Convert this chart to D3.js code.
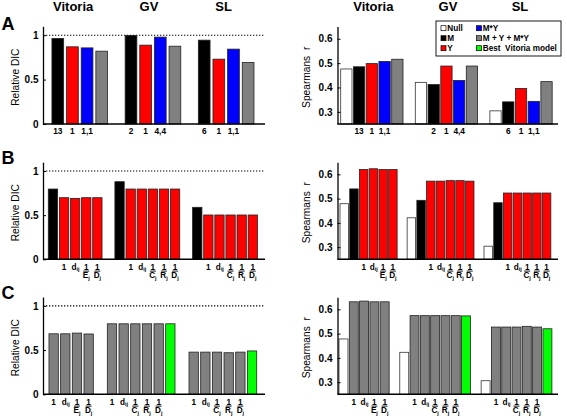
<!DOCTYPE html>
<html><head><meta charset="utf-8">
<script src="https://cdn.jsdelivr.net/npm/d3@7"></script>
<style>
body{margin:0;background:#fff}
svg{display:block}
text{font-family:"Liberation Sans",Arial,sans-serif;fill:#000}
</style>
</head><body>
<svg id="c" width="567" height="419"></svg>
<script>
// ---------------- data ----------------
const sites = ["Vitoria", "GV", "SL"];
const legendLabels = ["Null", "M", "Y", "M*Y", "M + Y + M*Y", "Best  Vitoria model"];
const legendKeys = ["Null", "M", "Y", "MY", "F", "Best"];

// Panel A : relative DIC (left) and Spearman r (right)
const aDIC_M  = [0.963, 0.997, 0.944];
const aDIC_Y  = [0.869, 0.888, 0.730];
const aDIC_MY = [0.857, 0.978, 0.843];
const aDIC_F  = [0.820, 0.876, 0.693];
const aR_Null = [0.476, 0.421, 0.304];
const aR_M    = [0.485, 0.412, 0.341];
const aR_Y    = [0.498, 0.488, 0.396];
const aR_MY   = [0.507, 0.429, 0.343];
const aR_F    = [0.516, 0.488, 0.424];
const aTickLabels = [["13", "1", "1,1"], ["2", "1", "4,4"], ["6", "1", "1,1"]];

// Panel B
const bDIC_M = [0.796, 0.879, 0.589];
const bDIC_Y = [[0.698, 0.690, 0.698, 0.698],
                [0.796, 0.796, 0.796, 0.796, 0.796],
                [0.502, 0.502, 0.502, 0.502, 0.502]];
const bR_Null = [0.479, 0.421, 0.304];
const bR_M    = [0.540, 0.493, 0.483];
const bR_Y    = [[0.620, 0.623, 0.620, 0.620],
                 [0.572, 0.572, 0.574, 0.574, 0.572],
                 [0.523, 0.523, 0.523, 0.523, 0.523]];

// Panel C
const cDIC_F = [[0.684, 0.684, 0.692, 0.682],
                [0.797, 0.797, 0.797, 0.797, 0.797],
                [0.477, 0.477, 0.477, 0.470, 0.477]];
const cDIC_Best = [null, 0.797, 0.490];
const cR_Null = [0.478, 0.423, 0.306];
const cR_F = [[0.631, 0.634, 0.631, 0.631],
              [0.574, 0.574, 0.574, 0.574, 0.574],
              [0.527, 0.527, 0.527, 0.530, 0.527]];
const cR_Best = [null, 0.573, 0.520];

const distLabels = [["1", "d_ij", "1/E_j", "1/D_j"],
                    ["1", "d_ij", "1/C_j", "1/R_j", "1/D_j"],
                    ["1", "d_ij", "1/C_j", "1/R_j", "1/D_j"]];

const leftTicks = [0, 0.5, 1];
const rightTicks = [0.3, 0.4, 0.5, 0.6];

// ---------------- styles ----------------
const colors = {Null: "#ffffff", M: "#000000", Y: "#ff0000", MY: "#0000ff", F: "#808080", Best: "#00ff00"};

// ---------------- build groups ----------------
const bar = (key, value, label) => ({key, value, label});
const groupsA_L = sites.map((s, g) => [bar("Null", null), bar("M", aDIC_M[g], aTickLabels[g][0]),
  bar("Y", aDIC_Y[g], aTickLabels[g][1]), bar("MY", aDIC_MY[g], aTickLabels[g][2]), bar("F", aDIC_F[g])]);
const groupsA_R = sites.map((s, g) => [bar("Null", aR_Null[g]), bar("M", aR_M[g], aTickLabels[g][0]),
  bar("Y", aR_Y[g], aTickLabels[g][1]), bar("MY", aR_MY[g], aTickLabels[g][2]), bar("F", aR_F[g])]);
const groupsB_L = sites.map((s, g) => [bar("Null", null), bar("M", bDIC_M[g]),
  ...bDIC_Y[g].map((v, i) => bar("Y", v, distLabels[g][i]))]);
const groupsB_R = sites.map((s, g) => [bar("Null", bR_Null[g]), bar("M", bR_M[g]),
  ...bR_Y[g].map((v, i) => bar("Y", v, distLabels[g][i]))]);
const groupsC_L = sites.map((s, g) => [bar("Null", null),
  ...cDIC_F[g].map((v, i) => bar("F", v, distLabels[g][i])),
  ...(cDIC_Best[g] != null ? [bar("Best", cDIC_Best[g])] : [])]);
const groupsC_R = sites.map((s, g) => [bar("Null", cR_Null[g]),
  ...cR_F[g].map((v, i) => bar("F", v, distLabels[g][i])),
  ...(cR_Best[g] != null ? [bar("Best", cR_Best[g])] : [])]);

// ---------------- layout ----------------
const panels = [
  {groups: groupsA_L, side: "L", x0: 37.3, slotW: 14.64, gap: 0,    frac: 0.80, yr: [124, 26.3],    labelStyle: "num"},
  {groups: groupsA_R, side: "R", x0: 340.7, slotW: 12.75, gap: 0.85, frac: 0.886, yr: [124, 26.6],  labelStyle: "num"},
  {groups: groupsB_L, side: "L", x0: 37.2, slotW: 11.1, gap: 0,     frac: 0.84, yr: [259.3, 162.2], labelStyle: "dist"},
  {groups: groupsB_R, side: "R", x0: 340,  slotW: 9.73, gap: 0.9,   frac: 0.87, yr: [259.3, 162.2], labelStyle: "dist"},
  {groups: groupsC_L, side: "L", x0: 37.3, slotW: 11.67, gap: 0,    frac: 0.80, yr: [394.3, 297],   labelStyle: "dist"},
  {groups: groupsC_R, side: "R", x0: 339,  slotW: 10.3, gap: 0.9,   frac: 0.87, yr: [394.3, 297.2], labelStyle: "dist"}
];

const svg = d3.select("#c");

panels.forEach(p => {
  const isL = p.side === "L";
  let pos = 0;
  const flat = [];
  p.groups.forEach((grp, gi) => {
    grp.forEach(b => { flat.push({...b, slot: pos, g: gi}); pos += 1; });
    if (gi < p.groups.length - 1) pos += p.gap;
  });
  const total = pos;
  const x = d3.scaleLinear().domain([0, total]).range([p.x0, p.x0 + total * p.slotW]);
  const y = d3.scaleLinear().domain(isL ? [0, 1.1] : [0.25, 0.65]).range(p.yr);
  const bw = p.slotW * p.frac;
  const axisX = isL ? 43 : 337.5;
  const axisEnd = isL ? 265 : 558;
  const base = y.range()[0];

  const gEl = svg.append("g");

  if (isL) {
    gEl.append("line").attr("x1", axisX).attr("x2", axisEnd).attr("y1", y(1)).attr("y2", y(1))
      .attr("stroke", "#000").attr("stroke-width", 1.1).attr("stroke-dasharray", "1.3,1.7");
  }

  gEl.selectAll("rect.bar").data(flat.filter(d => d.value != null)).join("rect")
    .attr("class", "bar")
    .attr("x", d => x(d.slot))
    .attr("width", bw)
    .attr("y", d => y(d.value))
    .attr("height", d => base - y(d.value))
    .attr("fill", d => colors[d.key])
    .attr("stroke", d => d.key === "Null" ? "#333" : "#222")
    .attr("stroke-width", 0.8);

  const ax = d3.axisLeft(y).tickValues(isL ? leftTicks : rightTicks)
    .tickSizeInner(-3).tickSizeOuter(0).tickPadding(isL ? 4.5 : 5)
    .tickFormat(isL ? (d => String(d)) : d3.format(".1f"));
  const axG = gEl.append("g").attr("transform", `translate(${axisX},0)`).call(ax);
  axG.select(".domain").attr("stroke", "#000").attr("stroke-width", 1.3);
  axG.selectAll(".tick line").attr("stroke", "#000");
  axG.selectAll(".tick text").attr("font-size", 10).attr("font-weight", "bold")
    .attr("font-family", "Liberation Sans, Arial, sans-serif").attr("fill", "#000");

  gEl.append("line").attr("x1", axisX).attr("x2", axisEnd).attr("y1", base).attr("y2", base)
    .attr("stroke", "#000").attr("stroke-width", 1.4);

  const midY = (y.range()[0] + y.range()[1]) / 2 + 2;
  gEl.append("text")
    .attr("transform", `translate(${isL ? 18.5 : 309.5},${midY}) rotate(-90)`)
    .attr("text-anchor", "middle").attr("font-size", 10.2)
    .attr("xml:space", "preserve")
    .text(isL ? "Relative DIC" : "Spearmans  r");

  const lab = flat.filter(d => d.label);
  lab.forEach(d => {
    const cx = x(d.slot) + bw / 2;
    const ly = base + 10.3;
    if (p.labelStyle === "num") {
      gEl.append("text").attr("x", cx).attr("y", ly).attr("text-anchor", "middle")
        .attr("font-size", 8.3).attr("font-weight", "bold").text(d.label);
    } else if (d.label === "1") {
      gEl.append("text").attr("x", cx).attr("y", ly).attr("text-anchor", "middle")
        .attr("font-size", 8.2).attr("font-weight", "bold").text("1");
    } else if (d.label.startsWith("d_")) {
      const t = gEl.append("text").attr("x", cx - 3.6).attr("y", ly).attr("text-anchor", "start")
        .attr("font-size", 8.2).attr("font-weight", "bold");
      t.append("tspan").text("d");
      t.append("tspan").attr("dy", 1.8).attr("font-size", 5.4).text(d.label.split("_")[1]);
    } else {
      const den = d.label.split("/")[1].split("_");
      gEl.append("text").attr("x", cx).attr("y", ly).attr("text-anchor", "middle")
        .attr("font-size", 8.2).attr("font-weight", "bold").text("1");
      gEl.append("line").attr("x1", cx - 3).attr("x2", cx + 3).attr("y1", ly + 1.5).attr("y2", ly + 1.5)
        .attr("stroke", "#000").attr("stroke-width", 0.9);
      const t = gEl.append("text").attr("x", cx).attr("y", ly + 8.6).attr("text-anchor", "middle")
        .attr("font-size", 8.2).attr("font-weight", "bold");
      t.append("tspan").text(den[0]);
      t.append("tspan").attr("dy", 1.6).attr("font-size", 5.4).text(den[1]);
    }
  });

  if (p.groups === groupsA_L || p.groups === groupsA_R) {
    const centers = p.groups.map((grp, gi) => {
      const s = flat.filter(d => d.g === gi);
      return (x(s[0].slot) + x(s[s.length - 1].slot) + bw) / 2;
    });
    const adj = isL ? [0.7, 3.3, 4.8] : [1.5, 1.5, -1];
    sites.forEach((s, i) => {
      svg.append("text").attr("x", centers[i] + adj[i]).attr("y", 11.3).attr("text-anchor", "middle")
        .attr("font-size", 13).attr("font-weight", "bold").text(s);
    });
  }
});

[["A", 29.5], ["B", 163.5], ["C", 298.5]].forEach(([l, yy]) => {
  svg.append("text").attr("x", 1.5).attr("y", yy).attr("font-size", 18).attr("font-weight", "bold").text(l);
});

const lg = svg.append("g");
lg.append("rect").attr("x", 436).attr("y", 21).attr("width", 125).attr("height", 35)
  .attr("fill", "#fff").attr("stroke", "#000").attr("stroke-width", 0.9);
legendLabels.forEach((t, i) => {
  const col = Math.floor(i / 3), row = i % 3;
  const sx = col === 0 ? 441 : 476.5;
  const by = 31.3 + row * 10;
  lg.append("rect").attr("x", sx).attr("y", by - 5.6).attr("width", 5).attr("height", 5)
    .attr("fill", colors[legendKeys[i]]).attr("stroke", "#000").attr("stroke-width", 0.7);
  lg.append("text").attr("x", sx + 6.3).attr("y", by).attr("font-size", 8.2).attr("font-weight", "bold")
    .attr("xml:space", "preserve").text(t);
});
</script>
</body></html>
